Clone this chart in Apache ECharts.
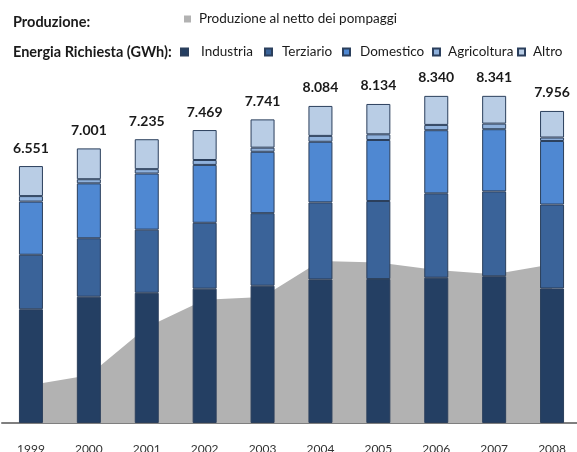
<!DOCTYPE html>
<html>
<head>
<meta charset="utf-8">
<script src="https://cdn.jsdelivr.net/npm/echarts@6/dist/echarts.min.js"></script>
<style>
html,body{margin:0;padding:0;background:#fff;}
#chart{width:577px;height:452px;}
</style>
</head>
<body>
<div id="chart"></div>
<script>
var years = ['1999','2000','2001','2002','2003','2004','2005','2006','2007','2008'];
var produzione = [970, 1220, 2440, 3140, 3210, 4130, 4090, 3900, 3790, 4050];
var industria   = [2900, 3220, 3320, 3425, 3500, 3660, 3670, 3705, 3740, 3430];
var terziario   = [1390, 1490, 1610, 1680, 1850, 1965, 1990, 2150, 2165, 2140];
var domestico   = [1355, 1400, 1430, 1475, 1565, 1545, 1555, 1610, 1585, 1620];
var agricoltura = [140, 105, 112, 125, 105, 150, 145, 135, 143, 88];
var altro       = [766, 786, 763, 764, 721, 764, 774, 740, 708, 678];

var FONT = 'Lato';
var BORDER = '#2B3F5C';

function fmt(n){
  var s = String(Math.round(n));
  return s.replace(/\B(?=(\d{3})+(?!\d))/g, '.');
}
function total(i){
  return industria[i] + terziario[i] + domestico[i] + agricoltura[i] + altro[i];
}

var chart = echarts.init(document.getElementById('chart'), null, {renderer:'canvas'});

function barSeries(name, data, color){
  return {
    name: name, type: 'bar', stack: 'energia', data: data, barWidth: 24, z: 3,
    itemStyle: {color: color, borderColor: BORDER, borderWidth: 1},
    emphasis: {disabled: true}
  };
}

var altroSeries = barSeries('Altro', altro, '#B9CDE5');
altroSeries.label = {
  show: true, position: 'top', distance: 11,
  fontFamily: FONT, fontWeight: 'bold', fontSize: 14, color: '#1A1A1A',
  formatter: function(p){ return fmt(total(p.dataIndex)); }
};

var legendText = {fontFamily: FONT, fontSize: 13.5, color: '#1A1A1A'};
function leg(name, left, top, pad){
  return {
    data: [name], left: left, top: top, itemWidth: 7, itemHeight: 7,
    icon: 'rect', selectedMode: false, padding: 0,
    textStyle: Object.assign({padding: [0,0,0,pad]}, legendText)
  };
}

var option = {
  animation: false,
  backgroundColor: '#ffffff',
  grid: {left: 2, width: 579, top: 70, bottom: 29, containLabel: false, outerBoundsMode: 'none'},
  legend: [
    leg('Produzione al netto dei pompaggi', 184, 12, 3),
    leg('Industria', 180, 45, 8),
    leg('Terziario', 264, 45, 5),
    leg('Domestico', 342, 45, 5),
    leg('Agricoltura', 432, 45, 3),
    leg('Altro', 517, 45, 3)
  ],
  graphic: [
    {type: 'text', left: 13, top: 15, style: {text: 'Produzione:', fontFamily: FONT, fontWeight: 'bold', fontSize: 14.5, fill: '#1A1A1A'}},
    {type: 'text', left: 13, top: 45, style: {text: 'Energia Richiesta (GWh):', fontFamily: FONT, fontWeight: 'bold', fontSize: 14.5, fill: '#1A1A1A'}}
  ],
  xAxis: {
    type: 'category', data: years, boundaryGap: true,
    axisLine: {show: true, lineStyle: {color: '#7F7F7F', width: 2}},
    axisTick: {show: false},
    axisLabel: {margin: 20, fontFamily: FONT, fontSize: 12, color: '#333333'}
  },
  yAxis: {
    type: 'value', min: 0, max: 9000, show: false,
    splitLine: {show: false}
  },
  series: [
    {
      name: 'Produzione al netto dei pompaggi', type: 'line', data: produzione,
      symbol: 'none', z: 1, lineStyle: {width: 0, color: '#B2B2B2'},
      itemStyle: {color: '#B2B2B2'},
      areaStyle: {color: '#B2B2B2', opacity: 1}
    },
    barSeries('Industria', industria, '#243F63'),
    barSeries('Terziario', terziario, '#3A6399'),
    barSeries('Domestico', domestico, '#4F88D2'),
    barSeries('Agricoltura', agricoltura, '#8FB1DC'),
    altroSeries
  ]
};
chart.setOption(option);
</script>
</body>
</html>
